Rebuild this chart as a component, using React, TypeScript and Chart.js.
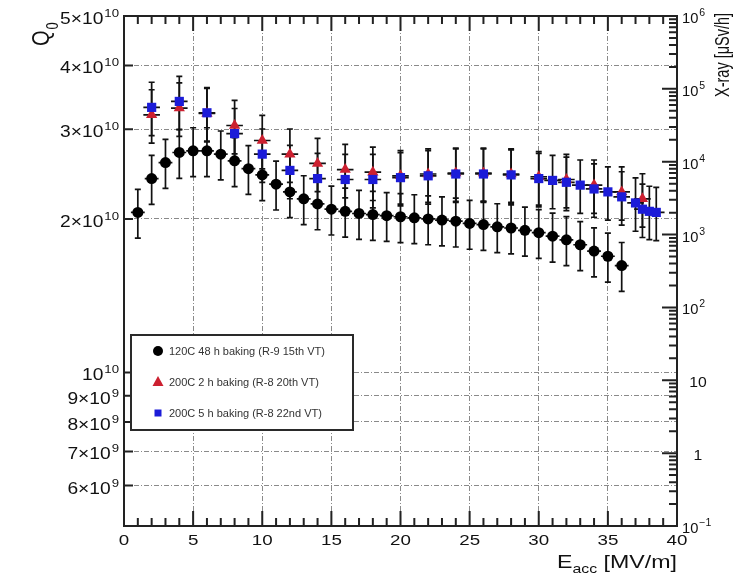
import React, { useEffect, useRef } from "react";
import { Chart, registerables } from "chart.js";

Chart.register(...registerables);

// ---------- data ----------
const BLACK_X = [1, 2, 3, 4, 5, 6, 7, 8, 9, 10, 11, 12, 13, 14, 15, 16, 17, 18, 19, 20, 21, 22, 23, 24, 25, 26, 27, 28, 29, 30, 31, 32, 33, 34, 35, 36];
const BLACK_Q0 = [
  2.06e10, 2.40e10, 2.58e10, 2.70e10, 2.72e10, 2.72e10, 2.68e10, 2.60e10, 2.51e10, 2.44e10,
  2.34e10, 2.26e10, 2.19e10, 2.14e10, 2.09e10, 2.07e10, 2.05e10, 2.04e10, 2.03e10, 2.02e10,
  2.01e10, 2.00e10, 1.99e10, 1.98e10, 1.96e10, 1.95e10, 1.93e10, 1.92e10, 1.90e10, 1.88e10,
  1.85e10, 1.82e10, 1.78e10, 1.73e10, 1.69e10, 1.62e10,
];

const RED_X = [2, 4, 6, 8, 10, 12, 14, 16, 18, 20, 22, 24, 26, 28, 30, 32, 34, 36, 37.5];
const RED_Q0 = [
  3.20e10, 3.30e10, 3.22e10, 3.05e10, 2.85e10, 2.68e10, 2.57e10, 2.50e10, 2.47e10, 2.43e10,
  2.45e10, 2.46e10, 2.46e10, 2.45e10, 2.42e10, 2.39e10, 2.33e10, 2.26e10, 2.19e10,
];

const BLUE_X = [2, 4, 6, 8, 10, 12, 14, 16, 18, 20, 22, 24, 26, 28, 30, 31, 32, 33, 34, 35, 36, 37, 37.5, 38, 38.5];
const BLUE_Q0 = [
  3.31e10, 3.40e10, 3.23e10, 2.94e10, 2.68e10, 2.49e10, 2.40e10, 2.39e10, 2.39e10, 2.41e10,
  2.43e10, 2.45e10, 2.45e10, 2.44e10, 2.40e10, 2.38e10, 2.36e10, 2.33e10, 2.29e10, 2.26e10,
  2.21e10, 2.15e10, 2.09e10, 2.07e10, 2.06e10,
];

// relative Q0 error and E_acc error
const BLACK_REL_ERR = 0.11;
const RED_REL_ERR = 0.12;
const BLUE_REL_ERR = 0.12;
const BLACK_X_ERR = 0.5;
const RED_X_ERR = 0.6;
const BLUE_X_ERR = 0.6;

const LEGEND_LABELS = [
  "120C 48 h baking (R-9 15th VT)",
  "200C 2 h baking (R-8 20th VT)",
  "200C 5 h baking (R-8 22nd VT)",
];

// axes
const X_MIN = 0;
const X_MAX = 40;
const X_TICKS = [0, 5, 10, 15, 20, 25, 30, 35, 40];
const Q0_MIN = 5e9;
const Q0_MAX = 5e10;
const Q0_TICKS = [5e10, 4e10, 3e10, 2e10, 1e10, 9e9, 8e9, 7e9, 6e9];
const Q0_TICK_MANT = ["5×10", "4×10", "3×10", "2×10", "10", "9×10", "8×10", "7×10", "6×10"];
const Q0_TICK_EXP = ["10", "10", "10", "10", "10", "9", "9", "9", "9"];
const XRAY_MIN = 0.1;
const XRAY_MAX = 1e6;
const XRAY_TICKS = [0.1, 1, 10, 100, 1e3, 1e4, 1e5, 1e6];
const XRAY_TICK_MANT = ["10", "1", "10", "10", "10", "10", "10", "10"];
const XRAY_TICK_EXP = ["−1", "", "", "2", "3", "4", "5", "6"];

const FONT = "'Liberation Sans', Arial, Helvetica, sans-serif";
const TEXT_COLOR = "#111";

const SERIES = [
  { xs: BLACK_X, ys: BLACK_Q0, rel: BLACK_REL_ERR, xe: BLACK_X_ERR },
  { xs: RED_X, ys: RED_Q0, rel: RED_REL_ERR, xe: RED_X_ERR },
  { xs: BLUE_X, ys: BLUE_Q0, rel: BLUE_REL_ERR, xe: BLUE_X_ERR },
];

function sText(ctx: CanvasRenderingContext2D, text: string, x: number, y: number, size: number, align: string, sx: number) {
  ctx.save();
  ctx.font = `${size}px ${FONT}`;
  const w = ctx.measureText(text).width * sx;
  const x0 = align === "right" ? x - w : align === "center" ? x - w / 2 : x;
  ctx.translate(x0, y);
  ctx.scale(sx, 1);
  ctx.textAlign = "left";
  ctx.textBaseline = "alphabetic";
  ctx.fillText(text, 0, 0);
  ctx.restore();
  return w;
}

function powText(ctx: CanvasRenderingContext2D, mant: string, exp: string, x: number, y: number,
  size: number, supSize: number, rise: number, align: string, sx: number) {
  ctx.save();
  ctx.font = `${size}px ${FONT}`;
  const wm = ctx.measureText(mant).width * sx;
  ctx.font = `${supSize}px ${FONT}`;
  const we = exp ? ctx.measureText(exp).width * sx + 1 : 0;
  ctx.restore();
  const tot = wm + we;
  const x0 = align === "right" ? x - tot : align === "center" ? x - tot / 2 : x;
  sText(ctx, mant, x0, y, size, "left", sx);
  if (exp) sText(ctx, exp, x0 + wm + 1, y - rise, supSize, "left", sx);
}

const rootPlugin = {
  id: "rootStyle",
  beforeDatasetsDraw(chart: any) {
    const ctx: CanvasRenderingContext2D = chart.ctx;
    const xs = chart.scales.x;
    const ys = chart.scales.y;
    ctx.save();
    ctx.strokeStyle = "#111";
    ctx.lineWidth = 1.7;
    for (const s of SERIES) {
      for (let i = 0; i < s.xs.length; i++) {
        const px = xs.getPixelForValue(s.xs[i]);
        const py = ys.getPixelForValue(s.ys[i]);
        const top = ys.getPixelForValue(s.ys[i] * (1 + s.rel));
        const bot = ys.getPixelForValue(s.ys[i] * (1 - s.rel));
        const xl = xs.getPixelForValue(s.xs[i] - s.xe);
        const xr = xs.getPixelForValue(s.xs[i] + s.xe);
        ctx.beginPath();
        ctx.moveTo(px, top); ctx.lineTo(px, bot);
        ctx.moveTo(px - 3, top); ctx.lineTo(px + 3, top);
        ctx.moveTo(px - 3, bot); ctx.lineTo(px + 3, bot);
        ctx.moveTo(xl, py); ctx.lineTo(xr, py);
        ctx.stroke();
      }
    }
    ctx.restore();
  },
  afterDraw(chart: any) {
    const ctx: CanvasRenderingContext2D = chart.ctx;
    const a = chart.chartArea;
    const xs = chart.scales.x;
    const ys = chart.scales.y;
    const y2 = chart.scales.y2;
    ctx.save();
    ctx.strokeStyle = "#222";
    ctx.lineWidth = 2;
    ctx.lineCap = "butt";

    // x ticks (bottom and top)
    ctx.beginPath();
    for (let v = X_MIN; v <= X_MAX; v++) {
      const p = xs.getPixelForValue(v);
      const len = v % 5 === 0 ? 15 : 8;
      ctx.moveTo(p, a.bottom); ctx.lineTo(p, a.bottom - len);
      ctx.moveTo(p, a.top); ctx.lineTo(p, a.top + len);
    }
    // left ticks
    for (const v of Q0_TICKS) {
      const p = ys.getPixelForValue(v);
      ctx.moveTo(a.left, p); ctx.lineTo(a.left + 9, p);
    }
    // right log ticks
    for (let d = XRAY_MIN; d < XRAY_MAX * 1.01; d *= 10) {
      const p = y2.getPixelForValue(d);
      ctx.moveTo(a.right, p); ctx.lineTo(a.right - 15, p);
      if (d < XRAY_MAX * 0.99) {
        for (let k = 2; k <= 9; k++) {
          const q = y2.getPixelForValue(d * k);
          ctx.moveTo(a.right, q); ctx.lineTo(a.right - 8, q);
        }
      }
    }
    ctx.stroke();

    // frame
    ctx.lineWidth = 2;
    ctx.strokeRect(a.left, a.top, a.right - a.left, a.bottom - a.top);

    ctx.fillStyle = TEXT_COLOR;
    // x labels
    for (const v of X_TICKS) {
      sText(ctx, String(v), xs.getPixelForValue(v), a.bottom + 19, 15, "center", 1.25);
    }
    // left labels
    Q0_TICKS.forEach((v, i) => {
      powText(ctx, Q0_TICK_MANT[i], Q0_TICK_EXP[i], 119, ys.getPixelForValue(v) + 8, 16, 11, 7, "right", 1.2);
    });
    // right labels
    XRAY_TICKS.forEach((v, i) => {
      const p = y2.getPixelForValue(v) + 7;
      if (XRAY_TICK_EXP[i]) powText(ctx, XRAY_TICK_MANT[i], XRAY_TICK_EXP[i], a.right + 5, p, 14, 10, 7, "left", 1.05);
      else sText(ctx, XRAY_TICK_MANT[i], a.right + 21, p, 15, "center", 1.05);
    });

    // x title: E_acc [MV/m]
    {
      const sx = 1.22;
      ctx.font = `19px ${FONT}`;
      const wE = ctx.measureText("E").width * sx;
      const wU = ctx.measureText(" [MV/m]").width * sx;
      ctx.font = `13px ${FONT}`;
      const wA = ctx.measureText("acc").width * sx;
      const x0 = a.right - (wE + wA + wU);
      const yb = a.bottom + 42;
      sText(ctx, "E", x0, yb, 19, "left", sx);
      sText(ctx, "acc", x0 + wE, yb + 5, 13, "left", sx);
      sText(ctx, " [MV/m]", x0 + wE + wA, yb, 19, "left", sx);
    }

    // y title: Q0 (rotated)
    {
      ctx.save();
      ctx.translate(49, a.top + 30);
      ctx.scale(1.2, 1);
      ctx.rotate(-Math.PI / 2);
      ctx.font = `20px ${FONT}`;
      ctx.textAlign = "left";
      ctx.textBaseline = "alphabetic";
      ctx.fillText("Q", 0, 0);
      const wq = ctx.measureText("Q").width;
      ctx.font = `13px ${FONT}`;
      ctx.fillText("0", wq + 1, 7.5);
      ctx.restore();
    }

    // right title
    {
      ctx.save();
      ctx.translate(729, a.top + 81);
      ctx.scale(1.4, 1);
      ctx.rotate(-Math.PI / 2);
      ctx.font = `14.5px ${FONT}`;
      ctx.textAlign = "left";
      ctx.textBaseline = "alphabetic";
      ctx.fillText("X-ray [μSv/h]", 0, 0);
      ctx.restore();
    }

    // legend box
    {
      const lx = a.left + 7;
      const ly = 335;
      const lw = 222;
      const lh = 95;
      ctx.fillStyle = "#ffffff";
      ctx.fillRect(lx, ly, lw, lh);
      ctx.strokeStyle = "#2a2a2a";
      ctx.lineWidth = 2;
      ctx.strokeRect(lx, ly, lw, lh);
      const rows = [ly + 16, ly + 47, ly + 78];
      const mx = lx + 27;
      // circle
      ctx.fillStyle = "#000";
      ctx.beginPath();
      ctx.arc(mx, rows[0], 5, 0, Math.PI * 2);
      ctx.fill();
      // triangle
      ctx.fillStyle = "#cc2030";
      ctx.beginPath();
      ctx.moveTo(mx, rows[1] - 6);
      ctx.lineTo(mx + 5.5, rows[1] + 4);
      ctx.lineTo(mx - 5.5, rows[1] + 4);
      ctx.closePath();
      ctx.fill();
      // square
      ctx.fillStyle = "#1c1cd8";
      ctx.fillRect(mx - 3.5, rows[2] - 3.5, 7, 7);
      ctx.fillStyle = "#333";
      LEGEND_LABELS.forEach((t, i) => {
        sText(ctx, t, lx + 38, rows[i] + 4, 11, "left", 1.0);
      });
    }
    ctx.restore();
  },
};

export default function App() {
  const ref = useRef<HTMLCanvasElement | null>(null);
  useEffect(() => {
    if (!ref.current) return;
    const gridColor = (c: any) => {
      const v = c.tick ? c.tick.value : null;
      return v === X_MIN || v === X_MAX || v === Q0_MIN || v === Q0_MAX ? "rgba(0,0,0,0)" : "#8a8a8a";
    };
    const chart = new Chart(ref.current, {
      type: "scatter",
      data: {
        datasets: [
          {
            label: LEGEND_LABELS[2],
            data: BLUE_X.map((x, i) => ({ x, y: BLUE_Q0[i] })),
            pointStyle: "rect",
            pointRadius: 6.5,
            backgroundColor: "#1c1cd8",
            borderColor: "#1c1cd8",
            borderWidth: 0,
            showLine: false,
            yAxisID: "y",
          },
          {
            label: LEGEND_LABELS[1],
            data: RED_X.map((x, i) => ({ x, y: RED_Q0[i] })),
            pointStyle: "triangle",
            pointRadius: 6.5,
            backgroundColor: "#cc2030",
            borderColor: "#cc2030",
            borderWidth: 0,
            showLine: false,
            yAxisID: "y",
          },
          {
            label: LEGEND_LABELS[0],
            data: BLACK_X.map((x, i) => ({ x, y: BLACK_Q0[i] })),
            pointStyle: "circle",
            pointRadius: 5.5,
            backgroundColor: "#000",
            borderColor: "#000",
            borderWidth: 0,
            showLine: false,
            yAxisID: "y",
          },
        ],
      },
      options: {
        responsive: false,
        animation: false,
        devicePixelRatio: 1,
        layout: { padding: { left: 124, right: 58, top: 16, bottom: 55 } },
        plugins: { legend: { display: false }, tooltip: { enabled: false } },
        events: [],
        scales: {
          x: {
            type: "linear",
            min: X_MIN,
            max: X_MAX,
            ticks: { display: false, stepSize: 5 },
            grid: { drawTicks: false, color: gridColor, lineWidth: 1 },
            border: { display: false, dash: [5, 2, 1, 2] },
          },
          y: {
            type: "logarithmic",
            position: "left",
            min: Q0_MIN,
            max: Q0_MAX,
            afterBuildTicks: (scale: any) => {
              scale.ticks = Q0_TICKS.map((v) => ({ value: v }));
            },
            ticks: { display: false },
            grid: { drawTicks: false, color: gridColor, lineWidth: 1 },
            border: { display: false, dash: [5, 2, 1, 2] },
          },
          y2: {
            type: "logarithmic",
            position: "right",
            min: XRAY_MIN,
            max: XRAY_MAX,
            ticks: { display: false },
            grid: { display: false, drawTicks: false },
            border: { display: false },
          },
        },
      } as any,
      plugins: [rootPlugin],
    });
    return () => chart.destroy();
  }, []);
  return (
    <div style={{ position: "absolute", left: 0, top: 0, width: 735, height: 581, background: "#fff" }}>
      <canvas ref={ref} width={735} height={581} style={{ display: "block" }} />
    </div>
  );
}
